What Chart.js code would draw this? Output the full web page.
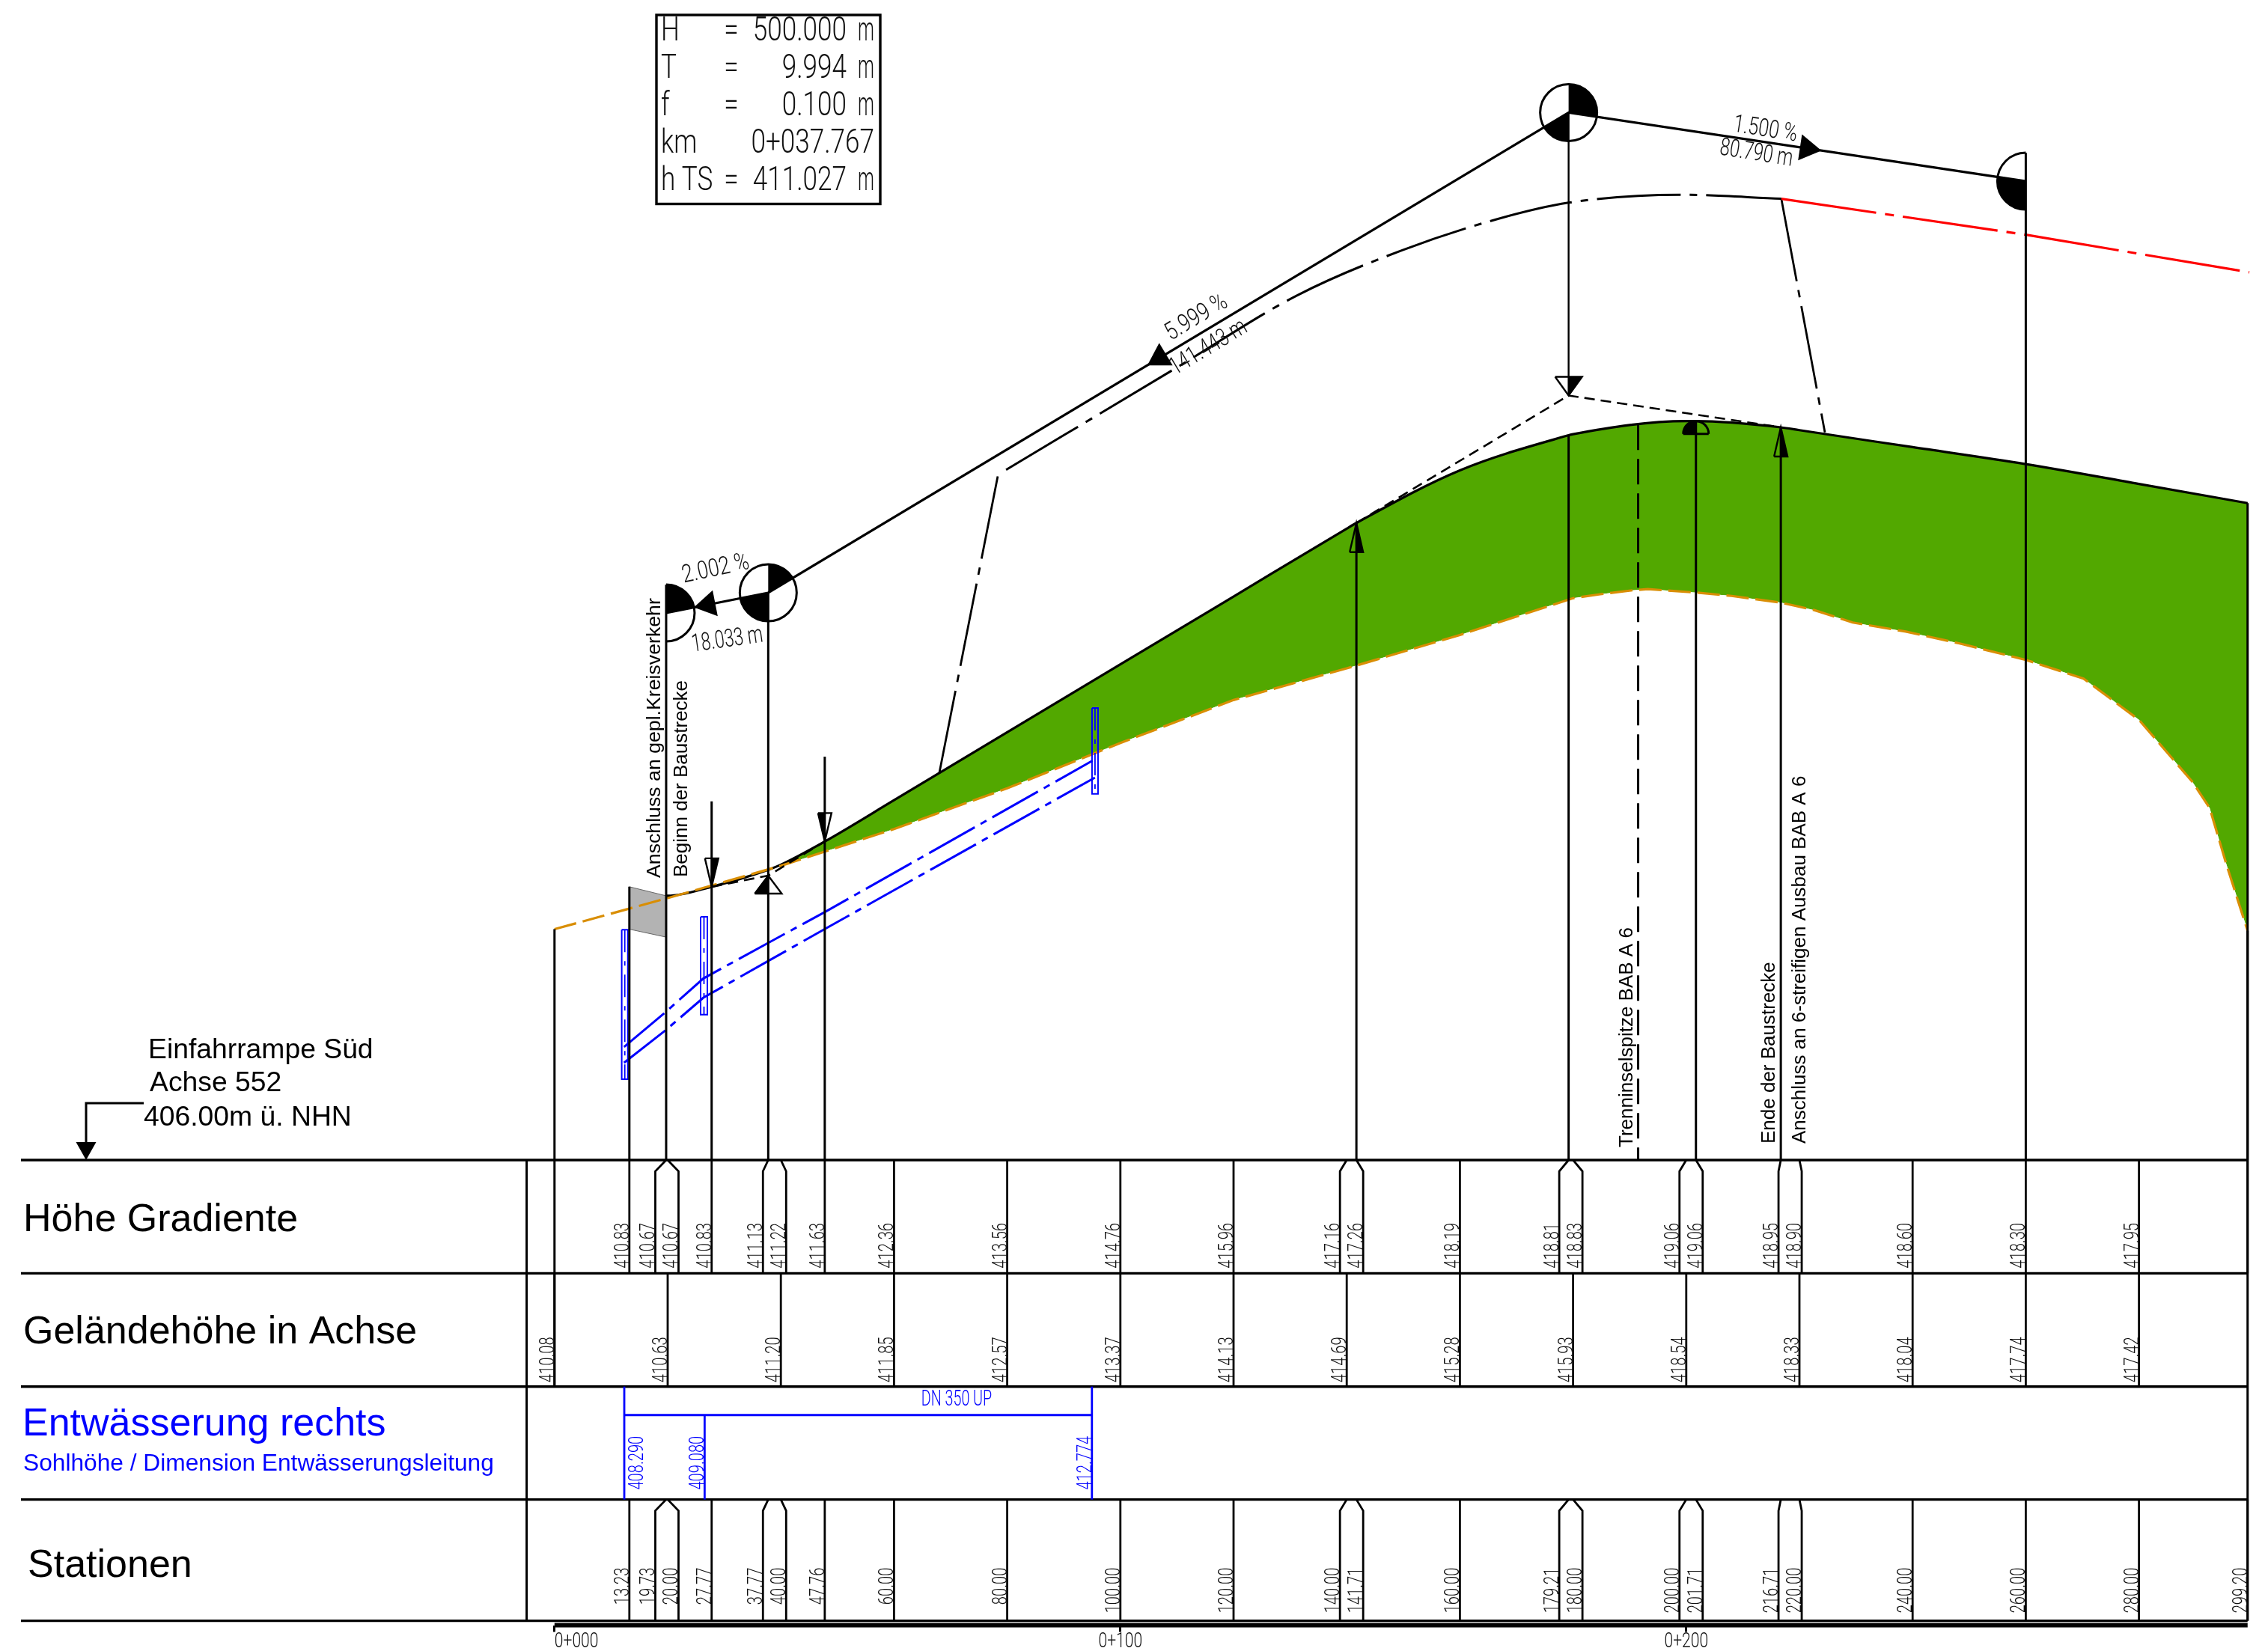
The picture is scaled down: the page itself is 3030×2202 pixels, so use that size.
<!DOCTYPE html>
<html>
<head>
<meta charset="utf-8">
<title>Einfahrrampe Süd</title>
<script src="https://cdn.jsdelivr.net/npm/chart.js@4/dist/chart.umd.min.js"></script>
<style>
  html, body { margin: 0; padding: 0; background: #fff; }
  canvas { display: block; }
</style>
</head>
<body>
<canvas id="myChart" width="3030" height="2202"></canvas>
<script>
// table values
const stations = [13.23, 19.73, 20, 27.77, 37.77, 40, 47.76, 60, 80, 100, 120, 140, 141.71, 160, 179.21, 180, 200, 201.71, 216.71, 220, 240, 260, 280, 299.2];
const gradientHeights = [410.83, 410.67, 410.67, 410.83, 411.13, 411.22, 411.63, 412.36, 413.56, 414.76, 415.96, 417.16, 417.26, 418.19, 418.81, 418.83, 419.06, 419.06, 418.95, 418.9, 418.6, 418.3, 417.95];
const gradientEnd = 417.61;
const groundStations = [0, 20, 40, 60, 80, 100, 120, 140, 160, 180, 200, 220, 240, 260, 280];
const groundLabels = [410.08, 410.63, 411.2, 411.85, 412.57, 413.37, 414.13, 414.69, 415.28, 415.93, 418.54, 418.33, 418.04, 417.74, 417.42];
const drainStations = [12.33, 26.53, 94.97];
const drainLabels = [408.29, 409.08, 412.774];
const kmTicks = [0, 100, 200];

// terrain as drawn (lower edge of the green area)
const terrainX = [0, 20, 40, 60, 80, 100, 120, 140, 160, 180, 184.8, 190.5, 193.2, 201.7, 208, 216.8, 222.6, 229.4, 238.8, 248.3, 260, 270.2, 280, 289.4, 292.5, 295.5, 299.2];
const terrainY = [410.08, 410.63, 411.2, 411.85, 412.57, 413.37, 414.13, 414.69, 415.28, 415.93, 416, 416.07, 416.09, 416.03, 415.97, 415.85, 415.72, 415.5, 415.34, 415.13, 414.84, 414.51, 413.78, 412.69, 412.22, 411.21, 410.05];

// tangent polygon
const pviX = [19.73, 37.77, 179.21, 260];
const pviY = [410.67, 411.027, 419.512, 418.3];
const tangentLift = 5;
const tangentX1 = [27.77, 37.77, 47.76];
const tangentY1 = [410.83, 411.027, 411.63];
const tangentX2 = [141.71, 179.21, 216.71];
const tangentY2 = [417.26, 419.512, 418.95];

// dash-dot line above the gradient
const offsetX = [79.8, 109.7, 131.2, 149.8, 166.6, 179.2, 199.1, 216.8];
const offsetY = [418.2, 419.99, 421.28, 422.08, 422.63, 422.92, 423.06, 422.99];
const redX = [216.8, 260.2, 299.5];
const redY = [422.99, 422.35, 421.69];
const linkX1 = [68, 78.4];
const linkY1 = [412.84, 418.12];
const linkX2 = [216.8, 224.5];
const linkY2 = [422.99, 418.86];

// drainage pipe
const pipeX1 = [12.29, 19.7, 26.32, 37.8, 47.9, 95.1];
const pipeY1 = [408, 408.62, 409.21, 409.84, 410.39, 413.06];
const pipeX2 = [12.29, 19.7, 26.32, 37.8, 47.9, 95.5];
const pipeY2 = [407.72, 408.3, 408.87, 409.52, 410.09, 412.76];
const shaftLeft = [11.88, 25.82, 94.99];
const shaftRight = [12.96, 27.01, 96.05];
const shaftTop = [410.07, 410.3, 413.99];
const shaftBottom = [407.43, 408.57, 412.47];

const blockX = [13.23, 19.73, 19.73, 13.23];
const blockY = [410.83, 410.67, 409.94, 410.08];

// vertical leaders up from the 406 m datum
const datum = 406;
const leaderX = [0, 13.23, 19.73, 27.77, 37.77, 47.76, 141.71, 179.21, 201.71, 216.71, 260, 299.2];
const leaderTop = [410.08, 410.83, 416.17, 412.34, 416.03, 413.13, 417.26, 418.81, 419.06, 418.95, 423.8, 417.61];
const islandX = [191.5, 191.5];
const islandY = [419, 406];

const curveNames = ["H", "T", "f", "km", "h TS"];
const curveValues = ["500.000", "9.994", "0.100", "0+037.767", "411.027"];

// page layout in pixels
const PX_PER_M = 7.56;
const PX_PER_H = 75.6;
const ZERO_X = 740.8;
const DATUM_Y = 1550;
const AREA_BOTTOM = 2171.5;
const rowY = [1550, 1701.4, 1852.7, 2003.6, 2165.6];
const BLACK = "#000000";
const BLUE = "#0000ff";
const RED = "#ff0000";
const ORANGE = "#d98e04";
const GREEN = "#52a800";
const cadFont = (size) => `300 ${size}px Roboto, "DejaVu Sans", sans-serif`;
const sansFont = (size) => `${size}px "Liberation Sans", Arial, sans-serif`;

function pts(xs, ys) {
  return xs.map((x, i) => ({ x: x, y: ys[i] }));
}

function lineSet(xs, ys, color, width, dash, extra) {
  return Object.assign({
    data: pts(xs, ys),
    borderColor: color,
    backgroundColor: color,
    borderWidth: width,
    borderDash: dash || [],
    pointRadius: 0,
    fill: false,
  }, extra || {});
}

const DASH_DOT = [112, 12, 10, 12];
const PIPE_DASH = [70, 9, 9, 9];

const terrainSet = lineSet(terrainX, terrainY, ORANGE, 3.2, [30, 9]);
const gradientSet = lineSet(stations.slice(1), gradientHeights.slice(1).concat(gradientEnd), BLACK, 3.2, [], {
  cubicInterpolationMode: "monotone",
});

const datasets = [];
leaderX.forEach((x, i) => {
  datasets.push(lineSet([x, x], [datum, leaderTop[i]], BLACK, 3));
});
datasets.push(lineSet([pviX[2], pviX[2]], [pviY[2] + tangentLift, pviY[2]], BLACK, 2.4));
datasets.push(lineSet(islandX, islandY, BLACK, 3, [34, 12]));
datasets.push(lineSet(pviX, pviY.map((v) => v + tangentLift), BLACK, 3.2));
datasets.push(lineSet(tangentX1, tangentY1, BLACK, 2.6, [14, 8]));
datasets.push(lineSet(tangentX2, tangentY2, BLACK, 2.6, [14, 8]));
datasets.push(lineSet(offsetX, offsetY, BLACK, 3, DASH_DOT, { cubicInterpolationMode: "monotone" }));
datasets.push(lineSet(redX, redY, RED, 3.2, [128, 12, 12, 12]));
datasets.push(lineSet(linkX1, linkY1, BLACK, 2.8, DASH_DOT));
datasets.push(lineSet(linkX2, linkY2, BLACK, 2.8, DASH_DOT));
datasets.push(lineSet(pipeX1, pipeY1, BLUE, 3, PIPE_DASH));
datasets.push(lineSet(pipeX2, pipeY2, BLUE, 3, PIPE_DASH));
shaftLeft.forEach((left, i) => {
  const mid = (left + shaftRight[i]) / 2;
  datasets.push(lineSet([left, shaftRight[i], shaftRight[i], left, left],
    [shaftTop[i], shaftTop[i], shaftBottom[i], shaftBottom[i], shaftTop[i]], BLUE, 2));
  datasets.push(lineSet([mid, mid], [shaftTop[i], shaftBottom[i]], BLUE, 1.8, [30, 12, 6, 12]));
});
datasets.push(lineSet([0, 299.2], [datum - (AREA_BOTTOM - DATUM_Y) / PX_PER_H, datum - (AREA_BOTTOM - DATUM_Y) / PX_PER_H], BLACK, 6, [], { clip: false }));
datasets.push(terrainSet);
datasets.push(gradientSet);
datasets.push(lineSet(blockX.concat(blockX[0]), blockY.concat(blockY[0]), "#666666", 1, [], {
  backgroundColor: "#b3b3b3",
  fill: "shape",
}));
gradientSet.fill = { target: datasets.indexOf(terrainSet), above: GREEN, below: "rgba(0,0,0,0)" };

function text(ctx, str, x, y, font, color, opts) {
  const o = opts || {};
  ctx.save();
  ctx.translate(x, y);
  if (o.angle) ctx.rotate(o.angle);
  if (o.stretch) ctx.scale(o.stretch, 1);
  ctx.font = font;
  ctx.fillStyle = color;
  ctx.textAlign = o.align || "left";
  ctx.textBaseline = "alphabetic";
  ctx.fillText(str, 0, 0);
  ctx.restore();
}

function strokeLine(ctx, pointsList, color, width) {
  ctx.strokeStyle = color;
  ctx.lineWidth = width;
  ctx.beginPath();
  pointsList.forEach((p, i) => (i ? ctx.lineTo(p[0], p[1]) : ctx.moveTo(p[0], p[1])));
  ctx.stroke();
}

// two station lines closer than 31 px are spread apart in the table
function spreadStations(xs, sx) {
  const out = xs.map((v) => sx(v));
  for (let i = 0; i < out.length - 1; i++) {
    if (out[i + 1] - out[i] < 31) {
      const mid = (out[i] + out[i + 1]) / 2;
      out[i] = mid - 15.5;
      out[i + 1] = mid + 15.5;
      i++;
    }
  }
  return out;
}

function arrowHead(ctx, x, tipY, dir, len, half, blackLeft) {
  const baseY = tipY + dir * len;
  ctx.fillStyle = BLACK;
  ctx.beginPath();
  ctx.moveTo(x, tipY);
  ctx.lineTo(x + (blackLeft ? -half : half), baseY);
  ctx.lineTo(x, baseY);
  ctx.closePath();
  ctx.fill();
  strokeLine(ctx, [[x - half, baseY], [x, tipY], [x + half, baseY], [x - half, baseY]], BLACK, 2.4);
}

function tangentArrow(ctx, sx, sy, station, segment, forward) {
  const x0 = sx(pviX[segment]);
  const y0 = sy(pviY[segment] + tangentLift);
  const x1 = sx(pviX[segment + 1]);
  const y1 = sy(pviY[segment + 1] + tangentLift);
  const tipX = sx(station);
  const tipY = y0 + ((tipX - x0) / (x1 - x0)) * (y1 - y0);
  const a = Math.atan2(y1 - y0, x1 - x0) + (forward ? 0 : Math.PI);
  ctx.save();
  ctx.translate(tipX, tipY);
  ctx.rotate(a);
  ctx.fillStyle = BLACK;
  ctx.beginPath();
  ctx.moveTo(0, 0);
  ctx.lineTo(-29, -17.5);
  ctx.lineTo(-29, 17.5);
  ctx.closePath();
  ctx.fill();
  ctx.restore();
}

function wedge(ctx, x, y, r, from, to) {
  ctx.fillStyle = BLACK;
  ctx.beginPath();
  ctx.moveTo(x, y);
  ctx.arc(x, y, r, from, to);
  ctx.closePath();
  ctx.fill();
}

function arcLine(ctx, x, y, r, from, to) {
  ctx.strokeStyle = BLACK;
  ctx.lineWidth = 3;
  ctx.beginPath();
  ctx.arc(x, y, r, from, to);
  ctx.stroke();
}

const profilePlugin = {
  id: "profile",
  afterDatasetsDraw(chart) {
    const ctx = chart.ctx;
    const sx = (v) => chart.scales.x.getPixelForValue(v);
    const sy = (v) => chart.scales.y.getPixelForValue(v);
    const R = 38;
    const cx = pviX.map(sx);
    const cy = pviY.map((v) => sy(v + tangentLift));

    // tangent symbols
    const UP = -Math.PI / 2;
    const DOWN = Math.PI / 2;
    wedge(ctx, cx[0], cy[0], R, UP, Math.atan2(cy[1] - cy[0], cx[1] - cx[0]));
    arcLine(ctx, cx[0], cy[0], R, UP, DOWN);
    [1, 2].forEach((i) => {
      wedge(ctx, cx[i], cy[i], R, UP, Math.atan2(cy[i + 1] - cy[i], cx[i + 1] - cx[i]));
      wedge(ctx, cx[i], cy[i], R, DOWN, Math.atan2(cy[i - 1] - cy[i], cx[i - 1] - cx[i]));
      arcLine(ctx, cx[i], cy[i], R, 0, Math.PI * 2);
    });
    wedge(ctx, cx[3], cy[3], R, DOWN, Math.atan2(cy[2] - cy[3], cx[2] - cx[3]));
    arcLine(ctx, cx[3], cy[3], R, DOWN, DOWN + Math.PI);
    tangentArrow(ctx, sx, sy, 24.63, 0, false);
    tangentArrow(ctx, sx, sy, 104.76, 1, false);
    tangentArrow(ctx, sx, sy, 223.9, 2, true);

    // arrows on the gradient
    arrowHead(ctx, sx(27.77), sy(410.83), -1, 38, 9, false);
    arrowHead(ctx, sx(47.76), sy(411.63), -1, 38, 9, true);
    arrowHead(ctx, sx(141.71), sy(417.26), 1, 39, 9, false);
    arrowHead(ctx, sx(216.71), sy(418.95), 1, 39, 9, false);
    arrowHead(ctx, sx(pviX[1]), sy(pviY[1]), 1, 24, 18, true);
    arrowHead(ctx, sx(pviX[2]), sy(pviY[2]), -1, 25, 18, false);

    // half disc at the crest
    const crestX = sx(201.71);
    const crestY = sy(419.06) + 17;
    wedge(ctx, crestX, crestY, 17, Math.PI, Math.PI * 1.5);
    arcLine(ctx, crestX, crestY, 17, Math.PI, Math.PI * 2);
    strokeLine(ctx, [[crestX - 17, crestY], [crestX + 17, crestY]], BLACK, 3);

    // table rules
    rowY.forEach((y) => strokeLine(ctx, [[28, y], [sx(299.2), y]], BLACK, 3.4));
    strokeLine(ctx, [[703.6, rowY[0]], [703.6, rowY[4]]], BLACK, 3);
    strokeLine(ctx, [[sx(299.2), sy(410.05)], [sx(299.2), rowY[4]]], BLACK, 3);
    strokeLine(ctx, [[sx(0), rowY[0]], [sx(0), rowY[2]]], BLACK, 3);

    // station lines with values, row 1 and row 4
    const spread = spreadStations(stations, sx);
    [0, 3].forEach((row) => {
      const top = rowY[row];
      const bottom = rowY[row + 1];
      stations.forEach((st, i) => {
        strokeLine(ctx, [[sx(st), top], [spread[i], top + 15], [spread[i], bottom]], BLACK, 2.8);
        const value = row === 0 ? gradientHeights[i] : st;
        if (value !== undefined) {
          text(ctx, value.toFixed(2), spread[i] - 1, top + (row === 0 ? 84 : 91), cadFont(28), "#111111", {
            angle: -Math.PI / 2, stretch: 0.72, align: "right",
          });
        }
      });
    });

    // ground row
    groundStations.forEach((st, i) => {
      const x = sx(st);
      strokeLine(ctx, [[x, rowY[1]], [x, rowY[2]]], BLACK, 2.8);
      text(ctx, groundLabels[i].toFixed(2), x - 1, rowY[1] + 85, cadFont(28), "#111111", {
        angle: -Math.PI / 2, stretch: 0.72, align: "right",
      });
    });

    // drainage row
    const dx = drainStations.map(sx);
    strokeLine(ctx, [[dx[0], rowY[2] + 38], [dx[2], rowY[2] + 38]], BLUE, 3);
    strokeLine(ctx, [[dx[0], rowY[2]], [dx[0], rowY[3]]], BLUE, 2.8);
    strokeLine(ctx, [[dx[1], rowY[2] + 38], [dx[1], rowY[3]]], BLUE, 2.8);
    strokeLine(ctx, [[dx[2], rowY[2]], [dx[2], rowY[3]]], BLUE, 2.8);
    drainLabels.forEach((v, i) => {
      text(ctx, v.toFixed(3), dx[i] + (i === 0 ? 25 : -1), rowY[2] + 66, cadFont(28), BLUE, {
        angle: -Math.PI / 2, stretch: 0.72, align: "right",
      });
    });
    text(ctx, "DN 350 UP", 1278, 1878, cadFont(29), BLUE, { stretch: 0.68, align: "center" });

    // km axis labels
    kmTicks.forEach((km, i) => {
      const label = "0+" + String(km).padStart(3, "0");
      text(ctx, label, sx(km), 2201, cadFont(27), "#111111", { stretch: 0.78, align: i === 0 ? "left" : "center" });
    });

    // curve data box
    ctx.strokeStyle = BLACK;
    ctx.lineWidth = 3.4;
    ctx.strokeRect(877, 20, 299, 252.5);
    curveNames.forEach((name, i) => {
      const y = 54 + i * 50;
      text(ctx, name, 883, y, cadFont(45), "#111111", { stretch: 0.78 });
      if (name !== "km") {
        text(ctx, "=", 977, y, cadFont(45), "#111111", { stretch: 0.78, align: "center" });
        text(ctx, curveValues[i], 1131, y, cadFont(45), "#111111", { stretch: 0.78, align: "right" });
        text(ctx, "m", 1168, y, cadFont(45), "#111111", { stretch: 0.55, align: "right" });
      } else {
        text(ctx, curveValues[i], 1168, y, cadFont(45), "#111111", { stretch: 0.78, align: "right" });
      }
    });

    // grade and length notes
    const grade = (str, x, y, deg, stretch) => text(ctx, str, x, y, cadFont(33), "#111111", {
      angle: (deg * Math.PI) / 180, stretch: stretch, align: "center",
    });
    grade("2.002 %", 958, 769, -12, 0.8);
    grade("18.033 m", 973, 864, -8, 0.7);
    grade("5.999 %", 1603, 432, -31, 0.8);
    grade("141.443 m", 1619, 472, -31, 0.74);
    grade("1.500 %", 2357, 182, 9, 0.76);
    grade("80.790 m", 2345, 214, 9, 0.72);

    // heading and datum arrow
    text(ctx, "Einfahrrampe Süd", 198, 1414, sansFont(37.3), BLACK);
    text(ctx, "Achse 552", 200, 1458, sansFont(37.3), BLACK);
    text(ctx, "406.00m ü. NHN", 192, 1504, sansFont(37.3), BLACK);
    strokeLine(ctx, [[192, 1474], [115, 1474], [115, 1530]], BLACK, 3);
    ctx.fillStyle = BLACK;
    ctx.beginPath();
    ctx.moveTo(115, 1550);
    ctx.lineTo(101.5, 1526);
    ctx.lineTo(128.5, 1526);
    ctx.closePath();
    ctx.fill();

    // row titles
    text(ctx, "Höhe Gradiente", 31, 1645, sansFont(52), BLACK);
    text(ctx, "Geländehöhe in Achse", 31, 1795, sansFont(52), BLACK);
    text(ctx, "Entwässerung rechts", 30, 1918, sansFont(52), BLUE);
    text(ctx, "Sohlhöhe / Dimension Entwässerungsleitung", 31, 1965, sansFont(31.7), BLUE);
    text(ctx, "Stationen", 37, 2107, sansFont(52), BLACK);

    // rotated notes
    const note = (str, x, y, size) => text(ctx, str, x, y, sansFont(size), BLACK, { angle: -Math.PI / 2 });
    note("Anschluss an gepl.Kreisverkehr", 882, 1173, 26.7);
    note("Beginn der Baustrecke", 918, 1172, 26);
    note("Trenninselspitze BAB A 6", 2181, 1533, 26);
    note("Ende der Baustrecke", 2371, 1528, 26);
    note("Anschluss an 6-streifigen Ausbau BAB A 6", 2412, 1528, 26);
  },
};

new Chart(document.getElementById("myChart").getContext("2d"), {
  type: "line",
  data: { datasets: datasets },
  options: {
    responsive: false,
    devicePixelRatio: 1,
    animation: false,
    layout: { padding: 0 },
    plugins: { legend: { display: false }, tooltip: { enabled: false } },
    scales: {
      x: {
        type: "linear",
        min: (0 - ZERO_X) / PX_PER_M,
        max: (3030 - ZERO_X) / PX_PER_M,
        afterBuildTicks: (axis) => { axis.ticks = kmTicks.map((v) => ({ value: v })); },
        afterFit: (axis) => { axis.height = 2202 - AREA_BOTTOM; },
        border: { display: false },
        grid: { drawOnChartArea: false, drawTicks: true, tickLength: 9, color: BLACK, lineWidth: 3 },
        ticks: { display: false },
      },
      y: {
        display: false,
        min: datum - (AREA_BOTTOM - DATUM_Y) / PX_PER_H,
        max: datum + DATUM_Y / PX_PER_H,
      },
    },
  },
  plugins: [profilePlugin],
});
</script>
</body>
</html>
